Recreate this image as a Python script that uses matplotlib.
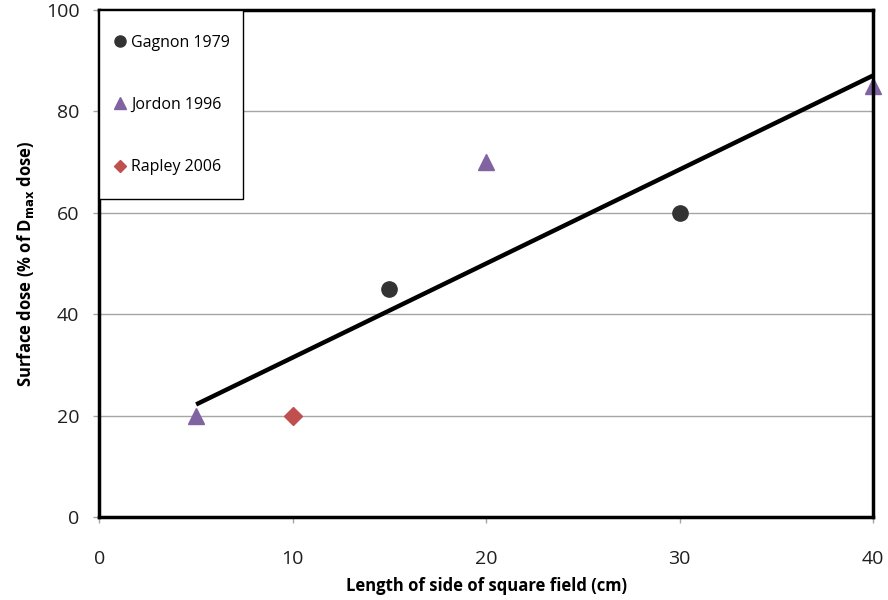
import matplotlib.pyplot as plt
import numpy as np
from matplotlib.lines import Line2D
from matplotlib.patches import Rectangle

plt.rcParams['font.family'] = ['Open Sans', 'DejaVu Sans']

# data
gagnon_x = [15, 30]
gagnon_y = [45, 60]
jordon_x = [5, 20, 40]
jordon_y = [20, 70, 85]
rapley_x = [10]
rapley_y = [20]

x_ticks = [0, 10, 20, 30, 40]
y_ticks = [0, 20, 40, 60, 80, 100]

fig = plt.figure(figsize=(8.88, 6.0), dpi=100)
ax = fig.add_axes([0.112, 0.1383, 0.871, 0.845])

ax.set_xlim(0, 40)
ax.set_ylim(0, 100)

for y in y_ticks[1:-1]:
    ax.axhline(y, color='#a6a6a6', lw=1.0, zorder=1)

# linear trend through all points
all_x = np.array(gagnon_x + jordon_x + rapley_x, dtype=float)
all_y = np.array(gagnon_y + jordon_y + rapley_y, dtype=float)
k, b = np.polyfit(all_x, all_y, 1)
fx = np.array([all_x.min(), all_x.max()])
ax.plot(fx, k * fx + b, color='black', lw=3.2, zorder=3, solid_capstyle='butt')

ax.plot(gagnon_x, gagnon_y, 'o', color='#333333', ms=11, zorder=4, clip_on=False)
ax.plot(jordon_x, jordon_y, '^', color='#8064a2', ms=11, zorder=4, clip_on=False)
ax.plot(rapley_x, rapley_y, 'D', color='#c0504d', ms=9, zorder=4, clip_on=False)

ax.set_xticks(x_ticks)
ax.set_yticks(y_ticks)
ax.tick_params(axis='both', labelsize=14, length=4, color='#a6a6a6', width=1,
               labelcolor='#1f1f1f')
ax.tick_params(axis='y', pad=10.5)
ax.tick_params(axis='x', pad=20)

for sp in ax.spines.values():
    sp.set_linewidth(2.5)
    sp.set_color('black')
    sp.set_zorder(5)

ax.set_xlabel('Length of side of square field (cm)', fontsize=12, fontweight='bold', labelpad=6)
ax.set_ylabel(r'Surface dose (% of D$_{\mathbf{max}}$ dose)', fontsize=12, fontweight='bold', labelpad=7)

# legend box hugging the top-left corner
ax.add_patch(Rectangle((0, 0.627), 0.185, 0.373, transform=ax.transAxes,
                       facecolor='white', edgecolor='black', lw=1.0, zorder=6, clip_on=False))
handles = [
    Line2D([], [], ls='none', marker='o', color='#333333', ms=8, label='Gagnon 1979'),
    Line2D([], [], ls='none', marker='^', color='#8064a2', ms=8.5, label='Jordon 1996'),
    Line2D([], [], ls='none', marker='D', color='#c0504d', ms=6.5, label='Rapley 2006'),
]
leg = ax.legend(handles=handles, loc='upper left', bbox_to_anchor=(0.0189, 0.9515),
                borderaxespad=0, borderpad=0, frameon=False, fontsize=11.5,
                labelspacing=2.9, handlelength=0.8, handletextpad=0.25)
leg.set_zorder(7)

fig.savefig('out.png', dpi=100)
